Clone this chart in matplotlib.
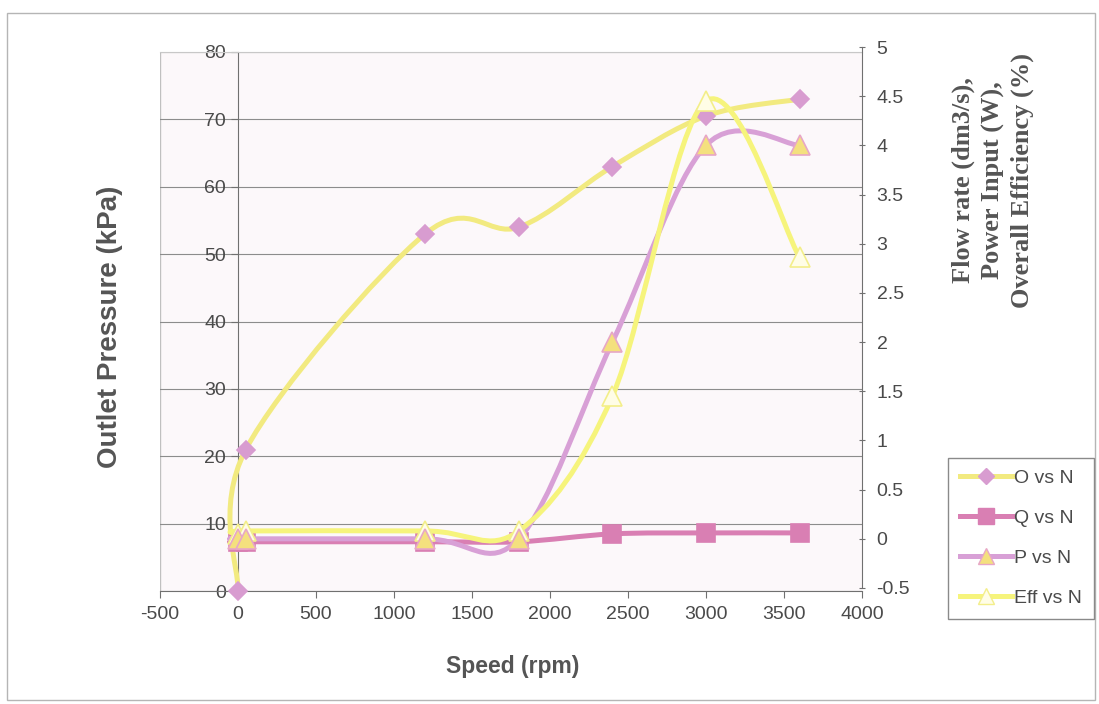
import numpy as np
import matplotlib
matplotlib.use("Agg")
import matplotlib.pyplot as plt
from matplotlib.path import Path
from matplotlib.patches import PathPatch, Rectangle
from matplotlib.lines import Line2D
from matplotlib.ticker import FuncFormatter, MultipleLocator

# values
speed = [0, 50, 1200, 1800, 2400, 3000, 3600]          # rpm
pressure = [0, 21, 53, 54, 63, 70.5, 73]               # kPa (left axis)
flow = [-0.03, -0.03, -0.03, -0.03, 0.05, 0.06, 0.06]  # dm3/s (right axis)
power = [0, 0, 0, 0, 2.0, 4.0, 4.0]                    # W (right axis)
eff = [0.05, 0.08, 0.08, 0.08, 1.45, 4.45, 2.86]       # % (right axis)

YEL = "#F2EA80"
YEL2 = "#F6F47C"
PINK = "#D97FB3"
LAV = "#D8A0D6"
DIA = "#D89CD0"
TXT = "#4a4a4a"

plt.rcParams.update({"font.family": "Liberation Sans", "font.size": 14,
                     "axes.unicode_minus": False})


def smooth_path(xs, ys):
    # Excel-style smoothed line: cubic bezier segments through the points
    pts = np.column_stack([xs, ys]).astype(float)
    n = len(pts)
    verts, codes = [pts[0]], [Path.MOVETO]
    for i in range(n - 1):
        p0 = pts[max(i - 1, 0)]
        p1, p2 = pts[i], pts[i + 1]
        p3 = pts[min(i + 2, n - 1)]
        verts += [p1 + (p2 - p0) / 6, p2 - (p3 - p1) / 6, p2]
        codes += [Path.CURVE4] * 3
    return Path(verts, codes)


def series(ax, xs, ys, lc, mk, ms, mfc, mec, z, mz):
    ax.add_patch(PathPatch(smooth_path(xs, ys), fc="none", ec=lc, lw=3.6,
                           capstyle="round", joinstyle="round", zorder=z))
    ax.plot(xs, ys, ls="none", marker=mk, ms=ms, mfc=mfc, mec=mec, mew=1.2,
            zorder=mz, clip_on=False)


W, H = 1099, 704
fig = plt.figure(figsize=(W / 100, H / 100), dpi=100)
fig.patches.append(Rectangle((7 / W, 1 - 700 / H), 1088 / W, 687 / H,
                             transform=fig.transFigure, fill=False,
                             ec="#b5b5b5", lw=1.0))

left, right = 160, 862
ax = fig.add_axes([left / W, 1 - 591 / H, (right - left) / W, (591 - 52) / H])
ax.set_facecolor("#FCF8FA")
ax.set_xlim(-500, 4000)
ax.set_ylim(0, 80)
ax.xaxis.set_major_locator(MultipleLocator(500))
ax.yaxis.set_major_locator(MultipleLocator(10))
ax.grid(axis="y", color="#8c8c8c", lw=0.8)
ax.set_axisbelow(True)
ax.spines["left"].set_position(("data", 0))
ax.spines["left"].set_color("#707070")
ax.spines["bottom"].set_color("#707070")
ax.spines["top"].set_color("#c8c8c8")
ax.spines["right"].set_visible(False)
ax.axvline(-500, color="#c0c0c0", lw=1.0, zorder=0)
ax.tick_params(axis="both", colors="#707070", labelcolor=TXT, labelsize=14,
               length=5, width=0.8)
ax.tick_params(axis="x", pad=6)

# right axis sits a few pixels higher than the left one in the original
ax2 = fig.add_axes([left / W, 1 - 588 / H, (right - left) / W, (588 - 47) / H],
                   sharex=ax)
ax2.patch.set_visible(False)
ax2.set_ylim(-0.5, 5)
ax2.yaxis.tick_right()
ax2.yaxis.set_major_locator(MultipleLocator(0.5))
ax2.yaxis.set_major_formatter(FuncFormatter(lambda v, p: f"{v:g}"))
for s in ["left", "top", "bottom"]:
    ax2.spines[s].set_visible(False)
ax2.spines["right"].set_color("#707070")
ax2.tick_params(axis="x", bottom=False, labelbottom=False)
ax2.tick_params(axis="y", colors="#707070", labelcolor=TXT, labelsize=14,
                length=5, width=0.8, direction="inout", pad=8)

series(ax, speed, pressure, YEL, "D", 9, DIA, DIA, 3, 3.5)
series(ax2, speed, flow, PINK, "s", 13, PINK, PINK, 3, 3.5)
series(ax2, speed, power, LAV, "^", 14, "#F4E07E", "#E7A7C6", 4, 6)
series(ax2, speed, eff, YEL2, "^", 14, "#FFFDE6", "#F3EE8A", 5, 5.5)

fig.text(513 / W, 1 - 667 / H, "Speed (rpm)", fontsize=16.5, fontweight="bold",
         color="#555555", ha="center", va="center")
fig.text(110 / W, 1 - 327 / H, "Outlet Pressure (kPa)", rotation=90,
         fontsize=20, fontweight="bold", color="#555555", ha="center", va="center")
fig.text(993 / W, 1 - 180 / H,
         "Flow rate (dm3/s),\nPower Input (W),\nOverall Efficiency (%)",
         rotation=90, family="Liberation Serif", fontsize=19, fontweight="bold",
         color="#555555", ha="center", va="center", linespacing=1.35,
         multialignment="center")

handles = [
    Line2D([], [], color=YEL, lw=3.6, marker="D", ms=8, mfc=DIA, mec=DIA),
    Line2D([], [], color=PINK, lw=3.6, marker="s", ms=11, mfc=PINK, mec=PINK),
    Line2D([], [], color=LAV, lw=3.6, marker="^", ms=11, mfc="#F4E07E", mec="#E7A7C6"),
    Line2D([], [], color=YEL2, lw=3.6, marker="^", ms=11, mfc="#FFFDE6", mec="#F3EE8A"),
]
leg = fig.legend(handles, ["O vs N", "Q vs N", "P vs N", "Eff vs N"],
                 loc="upper left", bbox_to_anchor=(948 / W, 1 - 458 / H),
                 fontsize=14, frameon=True, fancybox=False, framealpha=1,
                 edgecolor="#8a8a8a", handlelength=2.7, labelspacing=1.15,
                 handletextpad=0.1, borderpad=0.6, borderaxespad=0)
for t in leg.get_texts():
    t.set_color(TXT)

fig.savefig("out.png", dpi=100, facecolor="white")
